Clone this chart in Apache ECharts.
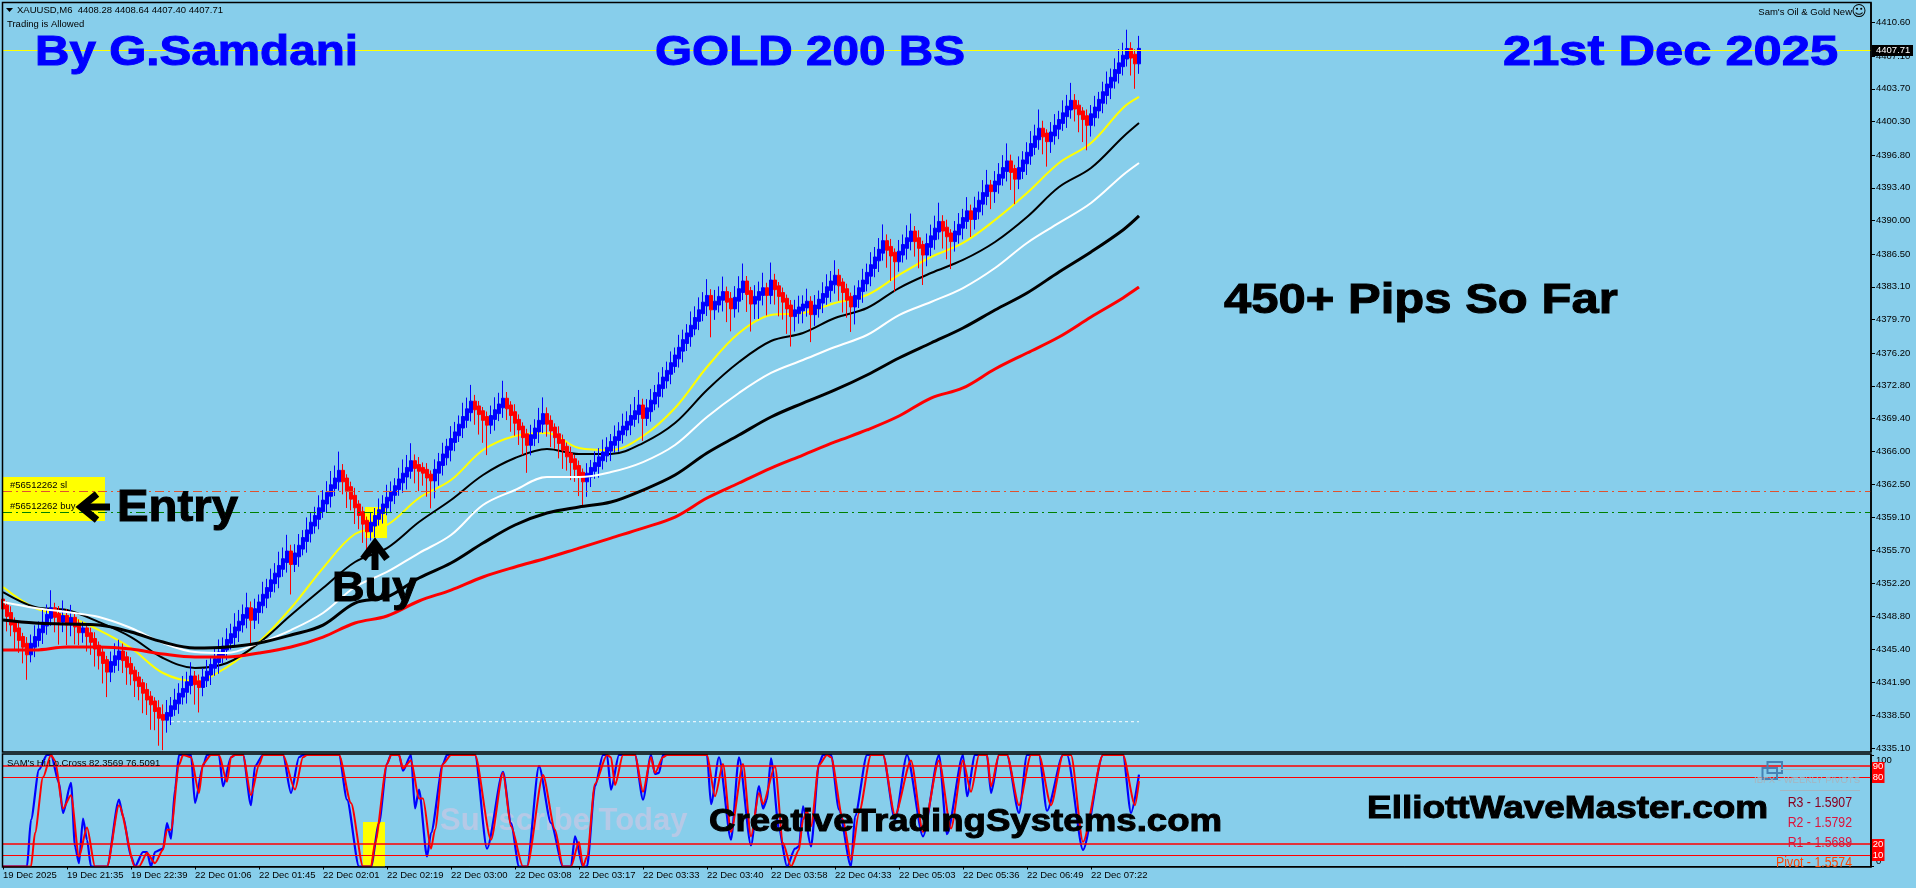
<!DOCTYPE html>
<html>
<head>
<meta charset="utf-8">
<title>GOLD 200 BS</title>
<style>html,body{margin:0;padding:0;background:#87ceeb}#c{width:1916px;height:888px}</style>
<script src="https://cdn.jsdelivr.net/npm/echarts@6/dist/echarts.min.js"></script>
</head>
<body>
<div id="c"></div>
<script>
// ---- price panel ----
const firstOpen = 4350.4;
const closes = [
4349.77,4349.0,4348.1,4347.4,4346.5,4345.8,4345.0,
4345.8,4346.5,4347.3,4348.0,4348.8,4349.5,
4348.9,4348.4,4348.7,4348.1,4348.5,4347.9,4347.3,4347.4,4346.9,4346.3,4345.6,4344.9,4344.1,4343.2,
4343.9,4344.5,4345.0,
4344.4,4343.7,4343.0,4342.3,4341.7,4341.0,4340.3,4339.8,4339.1,4338.4,
4338.2,4338.6,
4339.3,4339.9,4340.6,4341.1,4341.8,4342.4,
4341.9,4341.6,
4342.3,4342.9,4343.6,4344.2,4344.9,4345.5,4346.2,4346.8,4347.5,4348.1,4348.8,4349.5,
4348.6,
4349.4,4350.1,4350.9,4351.6,4352.4,4353.1,4353.9,4354.6,4355.4,
4354.4,
4355.2,4356.0,4356.8,4357.6,4358.4,4359.1,4359.9,4360.7,4361.5,4362.3,4363.0,4363.8,
4363.0,4362.1,4361.2,4360.3,4359.5,4358.6,4357.8,
4358.4,4359.1,4359.7,4360.3,4361.0,4361.6,4362.2,4362.9,4363.5,4364.1,4364.8,
4364.4,4364.1,4363.9,4363.4,4363.1,
4363.9,4364.7,4365.5,4366.3,4367.1,4367.8,4368.6,4369.4,4370.2,4371.0,
4370.5,4370.0,4369.4,4368.9,
4369.5,4370.1,4370.7,4371.3,
4370.6,4369.9,4369.1,4368.4,4367.6,4366.8,
4367.5,4368.2,4369.0,4369.7,
4369.0,4368.3,4367.6,4367.0,4366.3,4365.6,4365.0,4364.3,4363.6,4363.0,
4363.5,4364.1,4364.6,4365.2,4365.7,4366.2,4366.8,4367.3,4367.9,4368.4,4368.9,4369.5,4370.0,4370.6,
4369.6,
4370.3,4371.1,4371.9,4372.7,4373.5,4374.2,4375.0,4375.8,4376.6,4377.4,4378.1,4378.9,4379.7,4380.5,4381.3,4382.0,
4380.9,
4381.4,4381.9,4382.4,
4381.7,4381.0,
4381.8,4382.7,4383.5,
4382.5,4381.5,
4381.9,4382.4,4382.8,
4382.4,
4383.6,
4383.0,4382.3,4381.7,4381.0,4380.2,
4380.5,4380.8,4381.1,4381.4,
4380.4,
4381.0,4381.6,4382.2,4382.9,4383.5,4384.1,
4383.4,4382.7,4381.9,4381.2,
4382.0,4382.8,4383.6,4384.4,4385.2,4386.0,4386.8,4387.7,
4387.1,4386.5,4385.9,
4386.6,4387.3,4388.0,4388.7,
4388.0,4387.3,4386.6,
4387.4,4388.2,4389.0,4389.7,
4389.1,4388.5,4388.0,
4388.7,4389.4,4390.1,4390.8,
4390.3,
4391.1,4391.9,4392.7,4393.5,
4393.2,
4393.9,4394.6,4395.3,4396.0,
4395.2,4394.5,
4395.3,4396.1,4396.9,4397.8,4398.6,4399.4,
4398.9,4398.4,
4399.0,4399.7,4400.3,4401.0,4401.7,4402.3,
4401.8,4401.2,4400.7,4400.1,
4400.9,4401.6,4402.4,4403.2,4404.0,4404.7,4405.5,4406.2,4407.0,4407.7,
4407.1,4406.5,
4407.71];
// wick lengths above/below each body, in tenths of a dollar
const wickUp = [
4,3,5,3,4,3,5, 7,9,6,10,8,14, 4,6,12,5,10,4,3,5,3,4,5,3,4,3, 8,10,9, 6,4,5,3,4,3,5,4,3,6, 8,10, 7,9,8,10,8,11, 4,5,
7,9,6,8,10,7,9,8,11,9,8,12, 5, 8,6,10,7,9,8,11,9,13, 5, 7,9,6,10,8,7,10,8,9,11,10,15, 5,3,4,6,3,4,3,
8,6,9,7,10,8,6,9,11,10,14, 5,6,4,5,3, 8,7,9,6,10,8,7,11,9,13, 5,4,3,4, 8,10,9,14, 5,3,6,4,3,4, 8,7,10,13, 5,4,3,6,4,3,5,3,4,3,
8,6,9,7,10,8,6,9,7,10,8,9,11,12, 5, 7,9,6,10,8,7,9,6,10,8,7,11,9,10,8,13, 5, 9,8,12, 4,5, 9,10,14, 4,3, 9,8,12, 4, 14, 5,3,4,3,4,
8,9,7,10, 4, 8,7,9,10,8,12, 5,3,4,3, 8,6,9,7,10,8,9,13, 5,6,3, 9,8,10,14, 4,6,3, 8,9,10,15, 5,6,3, 8,9,7,11, 5, 9,7,10,12, 4,
8,9,10,14, 5,3, 9,7,8,10,9,15, 6,3, 8,9,7,10,9,14, 5,4,3,5, 7,9,6,8,10,7,9,11,10,15, 5,4, 10];
const wickDn = [
8,12,9,14,10,13,20, 6,8,5,9,7,6, 12,18,8,16,9,14,10,8,12,10,14,11,16,20, 8,6,9, 10,14,9,13,11,16,12,20,15,22, 24,10, 7,5,8,6,9,7, 16,20,
7,5,8,6,9,6,8,5,7,9,6,8, 22, 7,9,6,8,5,7,9,6,8, 24, 6,8,5,9,7,6,8,5,7,9,6,7, 10,14,9,13,11,15,18,
7,9,5,8,6,9,7,5,8,10,6, 12,16,10,15,22, 14,10,8,6,9,7,5,8,6,7, 12,16,18,24, 7,9,6,8, 9,13,10,12,14,22, 8,6,9,7, 10,13,9,12,15,11,14,10,16,20,
12,8,6,9,7,5,8,6,9,7,5,8,6,7, 18, 6,8,5,9,7,6,8,5,7,9,6,8,5,7,6,8, 22, 8,6,9, 16,18, 7,9,6, 14,22, 12,15,8, 16, 7, 12,16,14,20,24,
12,8,10,7, 22, 9,7,8,6,9,7, 12,16,14,20, 14,7,9,6,8,7,9,6, 14,20,24, 8,6,9,7, 12,16,24, 9,7,8,6, 14,18,22, 8,7,9,6, 14, 8,6,9,7, 14,
9,7,6,8, 14,20, 8,6,9,7,6,8, 14,20, 9,7,8,6,9,7, 10,14,18,20, 9,7,6,8,7,9,6,8,7,6, 14,20, 8];
const bodyOverlap = 0.2;
const wickScale = 0.13;

// moving averages, read at these bar numbers
const maBars = [0,8,16,24,32,40,48,56,64,72,80,88,96,104,112,120,128,136,144,152,160,168,176,184,192,200,208,216,224,232,240,248,256,264,272,280,284];
const maYellow = [4351.86,4349.67,4348.84,4347.38,4345.51,4342.91,4342.07,4343.53,4346.13,4349.67,4353.83,4357.37,4358.31,4361.12,4362.99,4366.11,4367.57,4367.88,4366.32,4366.11,4367.57,4370.48,4374.75,4378.29,4380.16,4380.37,4381.41,4382.24,4384.33,4386.20,4387.66,4390.05,4392.86,4395.98,4398.06,4401.71,4402.85];
const maBlackThin = [4351.33,4349.77,4349.46,4348.21,4346.65,4344.47,4343.43,4343.95,4346.03,4348.94,4351.75,4354.46,4355.91,4358.62,4360.91,4363.51,4365.28,4366.22,4365.70,4365.70,4366.84,4368.92,4372.36,4375.27,4377.46,4378.29,4379.85,4380.89,4382.97,4384.53,4385.89,4387.76,4390.36,4393.48,4395.46,4398.69,4400.14];
const maWhite = [4350.29,4349.67,4349.25,4348.73,4347.59,4346.03,4345.09,4344.99,4346.03,4347.38,4349.15,4351.86,4353.42,4355.39,4357.27,4360.39,4361.95,4363.30,4363.30,4363.82,4364.86,4366.63,4369.55,4372.05,4374.13,4375.48,4376.83,4378.08,4380.16,4381.52,4382.97,4385.05,4387.66,4389.74,4391.82,4394.73,4395.98];
const maBlackThick = [4348.42,4348.11,4348.01,4347.90,4347.17,4346.13,4345.51,4345.61,4346.03,4346.86,4347.90,4350.19,4350.82,4352.79,4354.35,4356.43,4358.31,4359.56,4360.18,4360.70,4361.95,4363.51,4365.80,4367.67,4369.55,4371.00,4372.36,4373.92,4375.69,4377.25,4378.81,4380.68,4382.45,4384.64,4386.72,4389.01,4390.47];
const maRed = [4345.30,4345.30,4345.61,4345.61,4345.40,4344.88,4344.57,4344.57,4344.99,4345.61,4346.65,4348.11,4348.84,4350.40,4351.54,4352.90,4353.94,4354.87,4355.91,4356.95,4357.99,4359.14,4361.12,4362.68,4364.24,4365.59,4366.95,4368.20,4369.65,4371.52,4372.57,4374.54,4376.21,4377.87,4379.95,4381.93,4383.07];

const priceTicks = [4410.60,4407.10,4403.70,4400.30,4396.80,4393.40,4390.00,4386.50,4383.10,4379.70,4376.20,4372.80,4369.40,4366.00,4362.50,4359.10,4355.70,4352.20,4348.80,4345.40,4341.90,4338.50,4335.10];
const bidPrice = 4407.71;
const slPrice = 4361.8;
const buyPrice = 4359.63;
const dottedBars = [42,284];
const dottedPrice = 4337.84;

// ---- oscillator panel ----
const blueBars = [0,6,7,9,11,12,14,15,17,18,19,20,21,22,26,29,30,32,33,35,36,37,38,40,41,42,43,44,47,48,50,51,54,55,57,58,60,62,63,65,70,72,74,75,84,86,89,92,94,96,97,99,100,102,103,104,106,107,110,111,118,121,125,127,129,131,134,137,140,142,143,145,146,148,150,151,152,154,158,160,162,163,164,165,176,177,179,182,184,187,189,190,191,192,194,196,198,199,200,202,204,205,207,209,212,213,216,220,223,226,230,234,236,240,241,243,246,247,249,251,254,256,259,261,265,266,270,275,280,282,284];
const blueValues = [0,0,42,87,100,100,75,48,75,18,3,43,24,0,0,60,45,9,0,13,13,0,13,16,39,25,69,100,100,57,90,100,100,72,98,100,100,55,90,100,100,66,98,100,100,60,0,0,39,92,100,100,86,100,52,69,9,30,92,100,100,16,85,39,0,0,90,39,0,0,27,0,0,72,100,100,69,100,100,60,100,83,84,100,100,56,98,24,98,19,72,52,60,97,33,0,16,18,54,18,92,100,100,51,0,45,100,100,42,100,27,100,29,100,63,100,100,66,100,100,48,100,100,50,100,100,15,100,100,48,82.36];
const redBars = [0,7,8,10,12,13,15,17,19,21,23,26,29,33,34,36,38,40,41,42,44,45,47,49,50,52,54,56,57,58,60,62,64,65,70,73,75,76,84,87,90,92,93,96,97,99,100,102,104,105,107,108,110,112,118,122,125,127,130,131,135,138,140,142,144,145,146,148,151,152,153,155,158,160,162,163,165,166,176,178,180,182,185,187,189,190,193,195,197,199,200,201,202,204,206,207,210,212,214,217,220,223,227,230,234,237,240,242,244,246,247,249,251,254,257,259,262,265,267,270,275,280,283,284];
const redValues = [0,0,30,80,100,95,52,64,9,35,0,0,55,0,0,12,3,15,33,33,91,100,98,66,92,100,100,76,98,100,100,64,91,100,100,69,98,100,100,57,0,0,21,92,100,100,88,95,61,61,16,33,92,100,100,24,84,36,0,0,82,33,0,0,22,0,9,74,100,98,73,100,100,67,98,84,98,100,100,63,92,31,92,27,66,56,90,21,0,15,42,50,36,91,100,98,42,6,48,100,100,46,95,31,95,34,95,67,100,100,72,100,100,55,100,100,55,100,100,22,100,100,55,76.51];
const oscLevels = [90,80,20,10];

const categories = Array.from({length:468},(_,i)=>i);
const timeLabels = ['19 Dec 2025','19 Dec 21:35','19 Dec 22:39','22 Dec 01:06','22 Dec 01:45','22 Dec 02:01','22 Dec 02:19','22 Dec 03:00','22 Dec 03:08','22 Dec 03:17','22 Dec 03:33','22 Dec 03:40','22 Dec 03:58','22 Dec 04:33','22 Dec 05:03','22 Dec 05:36','22 Dec 06:49','22 Dec 07:22'];
const barsPerLabel = 16;

// ---- build ----
const pair = (xs,ys) => xs.map((x,i)=>[x,ys[i]]);
const candles = closes.map((c,i)=>{
  const prev = i ? closes[i-1] : firstOpen;
  const up = c >= prev;
  const o = up ? prev-bodyOverlap : prev+bodyOverlap;
  const cl = up ? c+bodyOverlap : c-bodyOverlap;
  return [o, cl, Math.min(o,cl)-wickDn[i]*wickScale, Math.max(o,cl)+wickUp[i]*wickScale];
});
const SMALL = '9.5px "Liberation Sans"';
function big(text,x,base,size,sx,color,z,weight){
  return {type:'text',x:x,y:base-size*0.25,scaleX:sx,z:z||100,silent:true,
    style:{text:text,font:'bold '+size+'px "Liberation Sans"',fill:color,stroke:color,lineWidth:weight===undefined?1:weight,verticalAlign:'middle',align:'left'}};
}
function small(text,x,y,color,align,font){
  return {type:'text',x:x,y:y,z:100,silent:true,
    style:{text:text,font:font||SMALL,fill:color||'#000',verticalAlign:'middle',align:align||'left'}};
}
function pivot(text,y,color){
  return {type:'text',x:1852,y:y,scaleX:0.82,z:100,silent:true,
    style:{text:text,font:'15px "Liberation Sans"',fill:color,verticalAlign:'middle',align:'right'}};
}
function line(pts,color,w,z){
  return {type:'polyline',z:z||100,silent:true,shape:{points:pts},style:{stroke:color,lineWidth:w,fill:null}};
}
function rect(x,y,w,h,fill,stroke,lw,z){
  return {type:'rect',z:z,silent:true,shape:{x:x,y:y,width:w,height:h},style:{fill:fill,stroke:stroke||null,lineWidth:lw||0}};
}
function ma(name,values,color,w,z){
  return {name:name,type:'line',xAxisIndex:0,yAxisIndex:0,data:pair(maBars,values),showSymbol:false,symbol:'none',z:z,smooth:0.35,
    lineStyle:{color:color,width:w},silent:true};
}
const hl = (v,color,w,type)=>({yAxis:v,lineStyle:{color:color,width:w,type:type}});

const graphic = [
  rect(3,477,102,44,'#ffff00',null,0,1),
  rect(365,507,22,31,'#ffff00',null,0,1),
  rect(363,822,22,45,'#ffff00',null,0,1),
  rect(2.5,2.5,1868.5,749.5,'rgba(0,0,0,0)','#000',1.5,90),
  rect(2.5,754,1868.5,113,'rgba(0,0,0,0)','#000',1.5,90),
  big('Subscribe Today',440,829,31,1,'#b6c9e6',1,0),
  big('By G.Samdani',35,64,43,1.108,'#0000ff'),
  big('GOLD 200 BS',655,64,43,1.109,'#0000ff'),
  big('21st Dec 2025',1503,64,43,1.178,'#0000ff'),
  big('450+ Pips So Far',1224,312,43,1.14,'#000'),
  big('Entry',117,520,44,1.076,'#000'),
  big('Buy',332,600,43,1.05,'#000'),
  big('CreativeTradingSystems.com',709,830,32,1.145,'#000'),
  big('ElliottWaveMaster.com',1367,817,32,1.155,'#000'),
  line([[110,507],[82,507]],'#000',7),
  line([[97,494],[81,507],[97,520]],'#000',7),
  line([[375,570],[375,544]],'#000',7),
  line([[363,559],[375,543],[387,559]],'#000',7),
  {type:'polygon',z:100,silent:true,shape:{points:[[6,8],[13,8],[9.5,12]]},style:{fill:'#000'}},
  small('XAUUSD,M6  4408.28 4408.64 4407.40 4407.71',17,10.5),
  small('Trading is Allowed',7,24),
  small("Sam's Oil & Gold New",1852,12,'#000','right'),
  small('\u263A',1859,12,'#000','center','15px "DejaVu Sans"'),
  small('#56512262 sl',10,485.5),
  small('#56512262 buy',10,506.5),
  small("SAM's Hi.Lo.Cross 82.3569 76.5091",7,763),
  rect(1872,45,41,11,'#000',null,0,100),
  small('4407.71',1876,50.7,'#fff'),
  rect(1872,762,12.5,21,'#ff0000',null,0,100),
  rect(1872,839,12.5,22,'#ff0000',null,0,100),
  small('90',1878,766.5,'#fff','center'),
  small('80',1878,777.5,'#fff','center'),
  small('20',1878,844.5,'#fff','center'),
  small('10',1878,855.5,'#fff','center'),
  rect(1767.5,762,14.5,11,'rgba(0,0,0,0)','#4682b4',2,95),
  rect(1762.5,768,14.5,11,'rgba(0,0,0,0)','#4682b4',2,95),
  line([[1780,769.5],[1860,769.5]],'#a7b4be',1,95),
  line([[1780,790.5],[1860,790.5]],'#a7b4be',1,95),
  small('IBFX - WEEKLY PIVOTS',1860,780,'#a7b4be','right','9.5px "Liberation Sans"'),
  pivot('R3 - 1.5907',803,'#8b0020'),
  pivot('R2 - 1.5792',823,'#dc143c'),
  pivot('R1 - 1.5689',843,'#dc143c'),
  pivot('Pivot - 1.5574',863,'#ff4500')
];

const option = {
  backgroundColor:'#87ceeb',
  animation:false,
  textStyle:{fontFamily:'Liberation Sans'},
  grid:[
    {left:3,right:45,top:3,height:748.5,show:false},
    {left:3,right:45,top:755,height:111.5,show:false}
  ],
  xAxis:[
    {type:'category',gridIndex:0,data:categories,boundaryGap:false,show:false},
    {type:'category',gridIndex:1,data:categories,boundaryGap:false,
     axisLine:{show:true,onZero:false,lineStyle:{color:'#000',width:1}},
     axisTick:{show:true,length:3,inside:false,lineStyle:{color:'#000'},interval:(i)=>i%barsPerLabel===0&&i/barsPerLabel<timeLabels.length},
     axisLabel:{show:true,interval:(i)=>i%barsPerLabel===0&&i/barsPerLabel<timeLabels.length,align:'left',margin:4,color:'#000',fontSize:9.5,fontFamily:'Liberation Sans',hideOverlap:false,
       formatter:(v)=>timeLabels[Number(v)/barsPerLabel]||''},
     splitLine:{show:false}}
  ],
  yAxis:[
    {type:'value',gridIndex:0,position:'right',min:4334.74,max:4412.63,scale:true,splitLine:{show:false},
     axisLine:{show:true,lineStyle:{color:'#000',width:1.5}},
     axisTick:{show:true,length:4,lineStyle:{color:'#000'},customValues:priceTicks},
     axisLabel:{show:true,margin:5,color:'#000',fontSize:9.5,fontFamily:'Liberation Sans',customValues:priceTicks,formatter:(v)=>Number(v).toFixed(2)}},
    {type:'value',gridIndex:1,position:'right',min:0,max:100,splitLine:{show:false},
     axisLine:{show:true,lineStyle:{color:'#000',width:1.5}},
     axisTick:{show:true,length:3,lineStyle:{color:'#000'},customValues:[0,100]},
     axisLabel:{show:true,margin:5,color:'#000',fontSize:9.5,fontFamily:'Liberation Sans',customValues:[0,100],verticalAlignMinLabel:'bottom',verticalAlignMaxLabel:'top'}}
  ],
  graphic:graphic,
  series:[
    ma('MA fast',maYellow,'#ffff00',2,3),
    ma('MA mid',maBlackThin,'#000000',2,3),
    {name:'XAUUSD,M6',type:'candlestick',xAxisIndex:0,yAxisIndex:0,data:candles,barWidth:4,z:4,silent:true,
     itemStyle:{color:'#0000ff',color0:'#ff0000',borderColor:'#0000ff',borderColor0:'#ff0000',borderWidth:1},
     markLine:{silent:true,symbol:'none',animation:false,label:{show:false},z:5,
       data:[hl(bidPrice,'#ffff00',1,'solid'),hl(slPrice,'#e0522e',1,[9,4,2,4]),hl(buyPrice,'#008000',1,[9,4,2,4])]}},
    ma('MA slow',maWhite,'#ffffff',2,6),
    ma('MA long',maBlackThick,'#000000',3,6),
    ma('MA longest',maRed,'#ff0000',3,6),
    {name:'Low dotted',type:'line',xAxisIndex:0,yAxisIndex:0,symbol:'none',silent:true,z:6,
     data:dottedBars.map(b=>[b,dottedPrice]),lineStyle:{color:'#ffffff',width:1,type:[3,3]}},
    {name:'Levels',type:'line',xAxisIndex:1,yAxisIndex:1,data:[],symbol:'none',silent:true,z:3,
     markLine:{silent:true,symbol:'none',animation:false,label:{show:false},
       data:oscLevels.map((v,i)=>hl(v,'#ff0000',i%2===0?1.5:1,'solid'))}},
    {name:'Hi.Lo.Cross main',type:'line',xAxisIndex:1,yAxisIndex:1,data:pair(blueBars,blueValues),symbol:'none',silent:true,z:4,smooth:0.25,smoothMonotone:'x',
     lineStyle:{color:'#0000ff',width:2.2}},
    {name:'Hi.Lo.Cross signal',type:'line',xAxisIndex:1,yAxisIndex:1,data:pair(redBars,redValues),symbol:'none',silent:true,z:5,smooth:0.25,smoothMonotone:'x',
     lineStyle:{color:'#ff0000',width:2}}
  ]
};
const chart = echarts.init(document.getElementById('c'),null,{width:1916,height:888,renderer:'canvas'});
chart.setOption(option);
</script>
</body>
</html>
